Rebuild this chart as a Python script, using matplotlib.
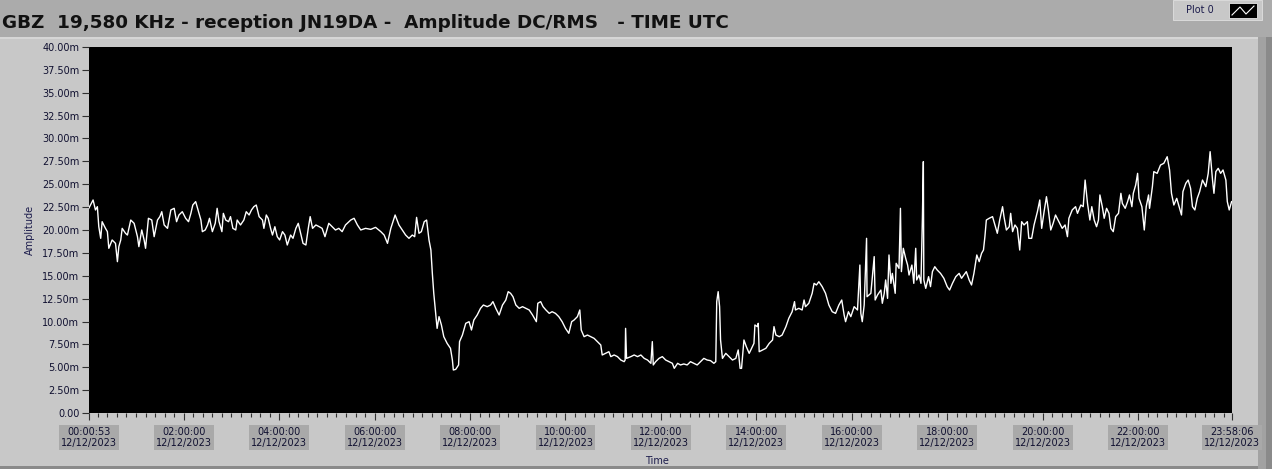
import matplotlib
matplotlib.use("Agg")
import matplotlib.pyplot as plt
from matplotlib.patches import Rectangle
from matplotlib.lines import Line2D
import numpy as np

# time of day in hours (UTC), amplitude in milli-units (m)
hours = [
    0.01, 0.10, 0.15, 0.19, 0.22, 0.26, 0.29, 0.36, 0.40, 0.43, 0.50, 0.57, 0.61, 0.64, 0.68, 0.71,
    0.78, 0.82, 0.89, 0.96, 1.03, 1.06, 1.12, 1.17, 1.20, 1.26, 1.33, 1.38, 1.45, 1.50, 1.54, 1.59,
    1.66, 1.73, 1.80, 1.85, 1.90, 1.97, 2.04, 2.10, 2.15, 2.19, 2.25, 2.31, 2.36, 2.39, 2.45, 2.50,
    2.54, 2.60, 2.66, 2.70, 2.74, 2.80, 2.83, 2.88, 2.94, 2.98, 3.03, 3.09, 3.12, 3.19, 3.26, 3.31,
    3.37, 3.42, 3.47, 3.52, 3.58, 3.65, 3.68, 3.73, 3.77, 3.82, 3.86, 3.91, 3.96, 4.01, 4.07, 4.12,
    4.17, 4.24, 4.29, 4.35, 4.40, 4.45, 4.50, 4.56, 4.61, 4.65, 4.70, 4.77, 4.84,
    4.90, 4.96, 5.04, 5.11, 5.18, 5.25, 5.32, 5.39, 5.50, 5.57, 5.64, 5.71, 5.81, 5.92, 6.02, 6.13,
    6.20, 6.27, 6.34, 6.43, 6.51, 6.58, 6.65, 6.72, 6.79, 6.84, 6.88, 6.93, 6.98, 7.04, 7.09, 7.14,
    7.18, 7.21, 7.24, 7.28, 7.31, 7.35, 7.40, 7.45, 7.52, 7.59, 7.63, 7.65, 7.70, 7.76, 7.78, 7.84,
    7.91, 7.98, 8.03, 8.08, 8.15, 8.22, 8.28, 8.36, 8.43, 8.48, 8.54, 8.61, 8.68, 8.75, 8.80, 8.85,
    8.90, 8.96, 9.03, 9.10, 9.17, 9.24, 9.31, 9.39, 9.42, 9.48, 9.53, 9.59, 9.66,
    9.72, 9.79, 9.86, 9.93, 10.00, 10.07, 10.13, 10.18, 10.25, 10.30, 10.33, 10.39, 10.46, 10.53,
    10.60, 10.67, 10.74, 10.77, 10.84, 10.91, 10.95, 11.02, 11.09, 11.16, 11.23, 11.25, 11.26, 11.28,
    11.37, 11.44, 11.51, 11.58, 11.65, 11.72, 11.79, 11.82, 11.84, 11.89, 11.96, 12.03, 12.10, 12.17,
    12.24, 12.28, 12.35, 12.41, 12.48, 12.55, 12.62, 12.69, 12.76, 12.83, 12.90, 12.97, 13.04, 13.11,
    13.15, 13.17, 13.20, 13.23, 13.25, 13.29, 13.36, 13.43, 13.50, 13.57, 13.62, 13.66, 13.69, 13.74,
    13.79, 13.85, 13.90, 13.95, 13.97, 14.02, 14.04, 14.06, 14.13, 14.20, 14.27, 14.34, 14.37, 14.41,
    14.48,
    14.54, 14.62, 14.68, 14.75, 14.80, 14.82, 14.89, 14.96, 15.00, 15.03, 15.10, 15.17, 15.21, 15.26,
    15.31, 15.38, 15.45, 15.52, 15.59, 15.66, 15.73, 15.79, 15.84, 15.87, 15.93, 15.98, 16.05, 16.12,
    16.17, 16.19, 16.22, 16.26, 16.31, 16.32, 16.40, 16.47, 16.49, 16.54, 16.61, 16.64, 16.68, 16.71,
    16.75, 16.78, 16.82, 16.85, 16.91, 16.93, 16.99, 17.02, 17.04, 17.08, 17.13, 17.17, 17.20, 17.26,
    17.30, 17.34, 17.36, 17.41, 17.45, 17.48, 17.50, 17.51, 17.55, 17.61, 17.65, 17.69, 17.74, 17.79,
    17.86, 17.93, 18.00, 18.05, 18.11, 18.18, 18.25, 18.30, 18.35, 18.40, 18.46, 18.51, 18.56, 18.62,
    18.67, 18.72, 18.76, 18.79, 18.82, 18.88, 18.95, 19.00, 19.05, 19.10, 19.16, 19.19, 19.24, 19.30,
    19.33, 19.37, 19.42, 19.47, 19.52, 19.56, 19.61, 19.68, 19.71, 19.77, 19.82, 19.89, 19.94, 19.98,
    20.03, 20.08, 20.12, 20.17, 20.22, 20.27, 20.34, 20.41, 20.47, 20.52, 20.55, 20.62, 20.69, 20.73,
    20.80, 20.85, 20.89, 20.94, 20.99, 21.03, 21.08, 21.13, 21.17, 21.20, 21.25, 21.29, 21.34, 21.39,
    21.43, 21.48, 21.53, 21.59, 21.64, 21.67, 21.73, 21.78, 21.82, 21.87, 21.90, 21.95, 21.99, 22.02,
    22.08, 22.13, 22.17, 22.22, 22.24, 22.30, 22.33, 22.40, 22.47, 22.54, 22.61, 22.66, 22.70, 22.75,
    22.81, 22.86, 22.91, 22.94, 23.00, 23.05, 23.10, 23.14, 23.19, 23.24, 23.29, 23.35, 23.42, 23.47,
    23.51, 23.56, 23.59, 23.63, 23.68, 23.73, 23.78, 23.84, 23.87, 23.91, 23.96,
]

amplitude = [
    22.37, 23.28, 22.19, 22.55, 20.36, 19.09, 20.91, 20.18, 19.82, 18.00, 18.91, 18.54, 16.54, 18.18, 18.91, 20.18,
    19.64, 19.45, 21.09, 20.73, 19.27, 18.18, 20.00, 18.91, 18.00, 21.28, 21.09, 19.27, 21.09, 21.46, 22.00, 20.55,
    20.18, 22.19, 22.37, 20.91, 21.64, 22.00, 21.28, 20.91, 21.82, 22.73, 23.10, 22.00, 21.09, 19.82, 20.00, 20.55,
    21.28, 19.82, 20.73, 22.37, 20.91, 19.82, 21.82, 21.09, 20.91, 21.46, 20.18, 20.00, 21.09, 20.55, 21.09, 22.00,
    21.64, 22.19, 22.55, 22.73, 21.46, 21.09, 20.18, 21.64, 21.28, 20.18, 19.45, 20.36, 19.27, 18.91, 19.82, 19.45,
    18.36, 19.45, 19.09, 20.18, 20.73, 19.64, 18.54, 18.36, 20.18, 21.46, 20.18, 20.55, 20.36,
    20.18, 19.27, 20.73, 20.36, 20.00, 20.18, 19.82, 20.55, 21.09, 21.28, 20.55, 20.00, 20.18, 20.07, 20.29, 19.82,
    19.45, 18.54, 20.18, 21.64, 20.55, 20.00, 19.45, 19.09, 19.45, 19.27, 21.38, 19.64, 19.82, 20.91, 21.09, 18.91,
    17.81, 15.26, 13.08, 10.89, 9.25, 10.53, 9.62, 8.34, 7.61, 7.07, 5.79, 4.70, 4.77, 5.25, 7.80, 8.52,
    9.80, 9.98, 9.07, 10.16, 10.71, 11.44, 11.80, 11.62, 11.80, 12.17, 11.44, 10.71, 11.80, 12.35, 13.26, 13.08,
    12.71, 11.80, 11.44, 11.62, 11.44, 11.26, 10.71, 9.98, 11.99, 12.17, 11.62, 11.26, 10.89,
    11.07, 10.89, 10.53, 9.98, 9.25, 8.71, 9.98, 10.16, 10.53, 11.26, 9.07, 8.34, 8.52, 8.34,
    8.16, 7.80, 7.43, 6.34, 6.52, 6.70, 6.16, 6.34, 6.16, 5.79, 5.61, 5.79, 9.25, 5.97,
    6.16, 6.34, 6.16, 6.34, 5.97, 5.79, 5.43, 7.80, 5.25, 5.61, 5.97, 6.16, 5.79, 5.61,
    5.43, 4.88, 5.43, 5.25, 5.36, 5.25, 5.61, 5.43, 5.25, 5.61, 5.97, 5.79, 5.72, 5.43,
    5.61, 12.17, 13.26, 11.62, 7.98, 5.97, 6.52, 6.16, 5.79, 5.97, 6.89, 4.88, 4.88, 7.98,
    7.25, 6.52, 7.07, 7.61, 9.62, 9.44, 9.80, 6.70, 6.89, 7.07, 7.61, 7.98, 9.44, 8.52,
    8.34,
    8.52, 9.44, 10.35, 11.07, 12.17, 11.26, 11.44, 11.26, 12.35, 11.62, 11.99, 13.08, 14.17, 13.99,
    14.35, 13.81, 13.08, 11.80, 11.07, 10.89, 11.80, 12.35, 10.71, 9.98, 11.07, 10.53, 11.62, 11.26,
    16.17, 10.89, 9.98, 11.80, 19.09, 12.71, 13.08, 17.09, 12.35, 12.90, 13.44, 11.99, 13.08, 14.54,
    12.53, 17.27, 14.17, 15.26, 13.08, 16.36, 15.81, 22.37, 15.45, 18.00, 16.90, 16.17, 15.08, 16.17,
    14.17, 18.00, 14.54, 15.08, 14.17, 21.28, 27.47, 14.54, 13.62, 14.90, 13.81, 15.45, 15.99, 15.63,
    15.26, 14.72, 13.81, 13.44, 14.17, 14.90, 15.26, 14.72, 15.08, 15.45, 14.54, 13.99, 15.26, 17.27,
    16.54, 17.45, 17.81, 19.27, 21.09, 21.28, 21.46, 20.55, 19.64, 21.09, 22.55, 21.46, 20.00, 20.36,
    21.82, 19.82, 20.55, 20.18, 17.81, 20.91, 20.55, 20.91, 19.09, 19.09, 20.55, 22.00, 23.28, 20.18,
    22.00, 23.64, 22.19, 20.00, 20.73, 21.64, 20.91, 20.18, 20.55, 19.27, 21.28, 22.19, 22.55, 21.82,
    22.73, 22.55, 25.46, 22.91, 21.09, 22.55, 21.09, 20.36, 21.09, 23.83, 22.55, 21.28, 22.37, 21.82,
    20.18, 19.82, 21.46, 21.82, 24.01, 22.91, 22.37, 23.10, 23.83, 22.55, 24.01, 24.92, 26.19, 23.46,
    22.55, 20.00, 22.55, 23.83, 22.37, 24.74, 26.38, 26.19, 27.10, 27.29, 28.01, 26.56, 24.01, 22.73,
    23.46, 22.55, 21.64, 24.19, 25.10, 25.46, 24.55, 22.55, 22.19, 23.46, 24.19, 25.46, 24.74, 26.19,
    28.56, 25.46, 24.01, 26.38, 26.74, 26.19, 26.56, 25.46, 23.10, 22.19, 23.10,
]

t_start = 53 / 3600          # 00:00:53
t_end = 86286 / 3600         # 23:58:06
tick_pos = [t_start, 2, 4, 6, 8, 10, 12, 14, 16, 18, 20, 22, t_end]
tick_times = ["00:00:53", "02:00:00", "04:00:00", "06:00:00", "08:00:00", "10:00:00", "12:00:00",
              "14:00:00", "16:00:00", "18:00:00", "20:00:00", "22:00:00", "23:58:06"]
date_str = "12/12/2023"
y_ticks = np.arange(0, 40.01, 2.5)

W, H = 1272, 469
fig = plt.figure(figsize=(W / 100, H / 100), dpi=100, facecolor="#c8c8c8")

# window chrome
fig.add_artist(Rectangle((0, 1 - 37 / H), 1, 37 / H, transform=fig.transFigure,
                         fc="#ababab", ec="none", zorder=0))
fig.add_artist(Rectangle((0, 1 - 39 / H), 1258 / W, 2 / H, transform=fig.transFigure,
                         fc="#d6d6d6", ec="none", zorder=0))
fig.add_artist(Rectangle((1258 / W, 0), 14 / W, 1 - 37 / H, transform=fig.transFigure,
                         fc="#a2a2a2", ec="none", zorder=0))
fig.add_artist(Rectangle((1266 / W, 0), 6 / W, 1 - 37 / H, transform=fig.transFigure,
                         fc="#8a8a8a", ec="none", zorder=0))
fig.add_artist(Rectangle((0, 0), 1258 / W, 3 / H, transform=fig.transFigure,
                         fc="#8a8a8a", ec="none", zorder=0))

# "Plot 0" legend
fig.add_artist(Rectangle((1173 / W, 1 - 20 / H), 89 / W, 20 / H, transform=fig.transFigure,
                         fc="#c8c8c8", ec="#e0e0e0", lw=0.6, zorder=1))
fig.text(1200 / W, 1 - 10 / H, "Plot 0", fontsize=7, color="#1c1c4c", ha="center", va="center")
fig.add_artist(Rectangle((1229 / W, 1 - 18 / H), 28 / W, 15 / H, transform=fig.transFigure,
                         fc="black", ec="#e8e8e8", lw=0.6, zorder=2))
fig.add_artist(Line2D([1232 / W, 1240 / W, 1246 / W, 1254 / W],
                      [1 - 15 / H, 1 - 7 / H, 1 - 14 / H, 1 - 6 / H],
                      transform=fig.transFigure, color="white", lw=0.8, zorder=3))

fig.text(2 / W, 1 - 23 / H, "GBZ  19,580 KHz - reception JN19DA -  Amplitude DC/RMS   - TIME UTC",
         fontsize=13.2, fontweight="bold", color="#111111", ha="left", va="center")

ax = fig.add_axes([89 / W, 1 - 413 / H, (1232 - 89) / W, (413 - 47) / H])
ax.set_facecolor("black")
ax.plot(hours, amplitude, color="white", lw=1.0)

ax.set_xlim(t_start, t_end)
ax.set_ylim(0, 40)
for s in ax.spines.values():
    s.set_visible(False)

ax.set_yticks(y_ticks)
ax.set_yticklabels(["0.00"] + [f"{v:.2f}m" for v in y_ticks[1:]])
ax.set_xticks(tick_pos)
ax.set_xticklabels([f"{t}\n{date_str}" for t in tick_times])
ax.set_xticks(np.arange(0.2, 24, 0.2), minor=True)

ax.tick_params(axis="y", length=5, width=0.8, color="#303030", labelsize=7,
               labelcolor="#101030", pad=2)
ax.tick_params(axis="x", which="major", length=5, width=0.8, color="#303030", labelsize=7,
               labelcolor="#101030", pad=5)
ax.tick_params(axis="x", which="minor", length=3, width=0.8, color="#303030")
for lbl in ax.get_xticklabels():
    lbl.set_linespacing(1.15)
    lbl.set_bbox(dict(boxstyle="square,pad=0.2", fc="#a9a9a9", ec="none"))

ax.set_ylabel("Amplitude", fontsize=7, color="#1c1c4c")
ax.yaxis.set_label_coords((35 - 89) / 1143, 0.5)
ax.set_xlabel("Time", fontsize=7, color="#1c1c4c")
ax.xaxis.set_label_coords((657 - 89) / 1143, -(456 - 413) / 366)

fig.savefig("out.png", dpi=100, facecolor=fig.get_facecolor())
